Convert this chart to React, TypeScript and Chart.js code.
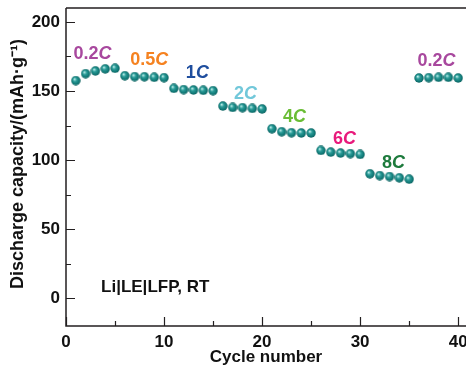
import React, { useEffect, useRef } from "react";
import { Chart, registerables } from "chart.js";

Chart.register(...registerables);

const cycles = [
  1, 2, 3, 4, 5, 6, 7, 8, 9, 10,
  11, 12, 13, 14, 15, 16, 17, 18, 19, 20,
  21, 22, 23, 24, 25, 26, 27, 28, 29, 30,
  31, 32, 33, 34, 35, 36, 37, 38, 39, 40,
];
const capacity = [
  157.5, 162.5, 164.5, 166.0, 166.4,
  161.0, 160.4, 160.3, 159.9, 159.6,
  151.9, 151.0, 150.7, 150.5, 150.2,
  139.1, 138.1, 137.9, 137.4, 137.0,
  122.7, 120.5, 119.8, 119.6, 119.6,
  107.0, 105.8, 105.1, 104.7, 104.1,
  90.1, 88.8, 88.1, 87.2, 86.2,
  159.4, 159.6, 159.9, 159.9, 159.4,
];
const xTickValues = [0, 5, 10, 15, 20, 25, 30, 35, 40];
const yTickValues = [0, 25, 50, 75, 100, 125, 150, 175, 200];
const rateNumbers = ["0.2", "0.5", "1", "2", "4", "6", "8", "0.2"];
const rateX = [2.7, 8.5, 13.4, 18.3, 23.3, 28.4, 33.4, 37.8];
const rateY = [177, 172.7, 163, 148, 131, 115, 98, 172];
const rateColors = ["#a8489e", "#f58220", "#1f4e9e", "#72c8da", "#6abd35", "#e8197b", "#1d7a3c", "#a8489e"];
const cellLabel = "Li|LE|LFP, RT";
const cellLabelPos = [9.1, 8.2];
const yTitle = "Discharge capacity/(mAh·g⁻¹)";
const xTitle = "Cycle number";

const FONT = '"Liberation Sans", Arial, Helvetica, sans-serif';
const AXIS_COLOR = "#231f20";

function makeSphere(): HTMLCanvasElement {
  const c = document.createElement("canvas");
  c.width = 10;
  c.height = 10;
  const g = c.getContext("2d")!;
  const grad = g.createRadialGradient(3.6, 3.4, 0.3, 5, 5, 5);
  grad.addColorStop(0, "#bdeeea");
  grad.addColorStop(0.35, "#2a9c98");
  grad.addColorStop(0.8, "#0e7472");
  grad.addColorStop(1, "#0a5856");
  g.fillStyle = grad;
  g.beginPath();
  g.arc(5, 5, 4.7, 0, Math.PI * 2);
  g.fill();
  return c;
}

const framePlugin = {
  id: "frame",
  afterDraw(chart: any) {
    const { ctx, chartArea } = chart;
    const xs = chart.scales.x;
    const ys = chart.scales.y;
    ctx.save();
    ctx.strokeStyle = AXIS_COLOR;
    ctx.lineWidth = 1.5;
    ctx.beginPath();
    ctx.moveTo(chartArea.left, chartArea.top);
    ctx.lineTo(chartArea.right, chartArea.top);
    ctx.moveTo(chartArea.left, chartArea.top);
    ctx.lineTo(chartArea.left, chartArea.bottom);
    ctx.lineTo(chartArea.right, chartArea.bottom);
    ctx.stroke();
    ctx.lineWidth = 1.2;
    ctx.beginPath();
    xTickValues.forEach((v) => {
      const px = Math.round(xs.getPixelForValue(v)) + 0.5;
      const len = v % 10 === 0 ? 9 : 5;
      ctx.moveTo(px, chartArea.bottom);
      ctx.lineTo(px, chartArea.bottom - len);
    });
    yTickValues.forEach((v) => {
      const py = Math.round(ys.getPixelForValue(v)) + 0.5;
      const len = v % 50 === 0 ? 9 : 5;
      ctx.moveTo(chartArea.left, py);
      ctx.lineTo(chartArea.left + len, py);
    });
    ctx.stroke();

    // rate labels
    ctx.textBaseline = "middle";
    ctx.textAlign = "left";
    rateNumbers.forEach((num, i) => {
      const cx = xs.getPixelForValue(rateX[i]);
      const cy = ys.getPixelForValue(rateY[i]);
      ctx.font = `bold 18px ${FONT}`;
      const w1 = ctx.measureText(num).width;
      ctx.font = `italic bold 18px ${FONT}`;
      const w2 = ctx.measureText("C").width;
      const start = cx - (w1 + w2) / 2;
      ctx.fillStyle = rateColors[i];
      ctx.font = `bold 18px ${FONT}`;
      ctx.fillText(num, start, cy);
      ctx.font = `italic bold 18px ${FONT}`;
      ctx.fillText("C", start + w1, cy);
    });

    ctx.font = `bold 17px ${FONT}`;
    ctx.fillStyle = "#111";
    ctx.textAlign = "center";
    ctx.fillText(cellLabel, xs.getPixelForValue(cellLabelPos[0]), ys.getPixelForValue(cellLabelPos[1]));

    // y-axis title
    ctx.save();
    ctx.translate(18, 164);
    ctx.rotate(-Math.PI / 2);
    ctx.font = `bold 18px ${FONT}`;
    ctx.fillStyle = "#111";
    ctx.textAlign = "center";
    ctx.textBaseline = "middle";
    ctx.fillText(yTitle, 0, 0);
    ctx.restore();
    ctx.restore();
  },
};

export default function App() {
  const ref = useRef<HTMLCanvasElement | null>(null);
  useEffect(() => {
    if (!ref.current) return;
    const sphere = makeSphere();
    const chart = new Chart(ref.current, {
      type: "scatter",
      data: {
        datasets: [
          {
            data: cycles.map((c, i) => ({ x: c, y: capacity[i] })),
            pointStyle: sphere as any,
            pointRadius: 5,
            showLine: false,
          },
        ],
      },
      options: {
        animation: false,
        responsive: false,
        devicePixelRatio: 1,
        layout: { autoPadding: false, padding: { top: 8, left: 0, right: 0, bottom: 0 } },
        plugins: { legend: { display: false }, tooltip: { enabled: false } },
        scales: {
          x: {
            type: "linear",
            min: 0,
            max: 40.8,
            grid: { display: false, drawTicks: false },
            border: { display: false },
            afterBuildTicks: (s: any) => {
              s.ticks = xTickValues.filter((v) => v % 10 === 0).map((v) => ({ value: v }));
            },
            afterFit: (s: any) => {
              s.height = 43;
              s.paddingLeft = 0;
              s.paddingRight = 0;
            },
            ticks: {
              padding: 6,
              maxRotation: 0,
              color: "#111",
              font: { family: FONT, size: 17, weight: "bold" },
            },
            title: {
              display: true,
              text: xTitle,
              color: "#111",
              padding: { top: 0, bottom: 1 },
              font: { family: FONT, size: 17, weight: "bold" },
            },
          },
          y: {
            type: "linear",
            min: -20,
            max: 210,
            grid: { display: false, drawTicks: false },
            border: { display: false },
            afterBuildTicks: (s: any) => {
              s.ticks = yTickValues.filter((v) => v % 50 === 0).map((v) => ({ value: v }));
            },
            afterFit: (s: any) => {
              s.width = 66;
              s.paddingTop = 0;
              s.paddingBottom = 0;
            },
            ticks: {
              padding: 6,
              color: "#111",
              font: { family: FONT, size: 17, weight: "bold" },
            },
            title: { display: false },
          },
        },
      },
      plugins: [framePlugin],
    });
    return () => chart.destroy();
  }, []);
  return (
    <div style={{ position: "absolute", left: 0, top: 0, width: 466, height: 369, background: "#fff" }}>
      <canvas ref={ref} width={466} height={369} />
    </div>
  );
}
